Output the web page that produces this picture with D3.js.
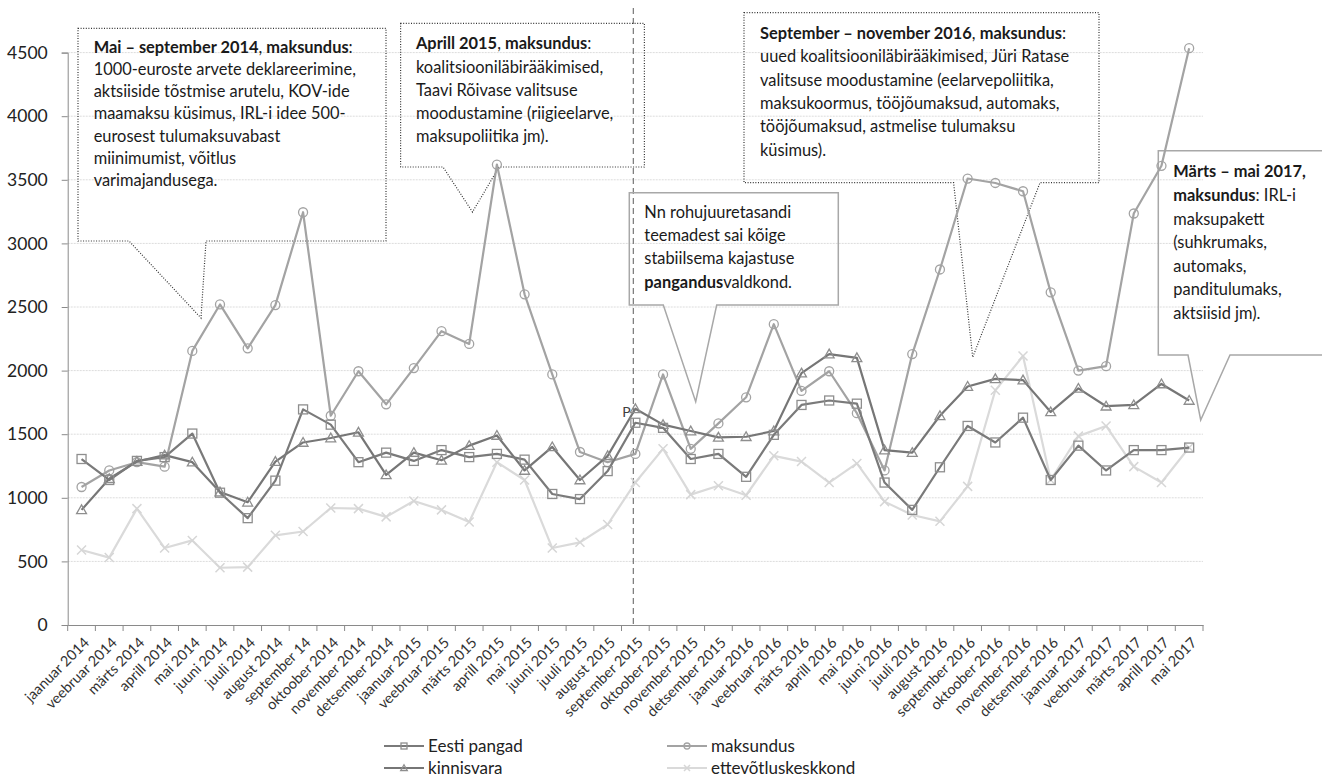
<!DOCTYPE html>
<html>
<head>
<meta charset="utf-8">
<script src="https://cdn.jsdelivr.net/npm/d3@7"></script>
<style>
  html, body { margin: 0; padding: 0; background: #fff; }
  svg { display: block; font-family: Lato, "Open Sans", sans-serif; }
</style>
</head>
<body>
<svg id="chart" width="1322" height="777"></svg>
<script>
// ---------- DATA ----------
const months = [
  "jaanuar 2014","veebruar 2014","märts 2014","aprill 2014","mai 2014","juuni 2014","juuli 2014","august 2014","september 14","oktoober 2014","november 2014","detsember 2014",
  "jaanuar 2015","veebruar 2015","märts 2015","aprill 2015","mai 2015","juuni 2015","juuli 2015","august 2015","september 2015","oktoober 2015","november 2015","detsember 2015",
  "jaanuar 2016","veebruar 2016","märts 2016","aprill 2016","mai 2016","juuni 2016","juuli 2016","august 2016","september 2016","oktoober 2016","november 2016","detsember 2016",
  "jaanuar 2017","veebruar 2017","märts 2017","aprill 2017","mai 2017"
];
const eestiPangad = [1305,1140,1290,1320,1505,1040,840,1135,1695,1575,1280,1355,
  1290,1375,1320,1345,1300,1030,990,1210,1590,1550,1305,1345,
  1165,1495,1730,1765,1740,1120,905,1240,1565,1435,1630,1140,
  1410,1215,1375,1375,1395];
const maksundus = [1085,1215,1280,1245,2155,2520,2175,2515,3245,1645,1995,1735,
  2020,2310,2210,3620,2600,1970,1360,1280,1345,1970,1385,1585,
  1790,2365,1840,1995,1665,1215,2130,2795,3510,3475,3410,2615,
  2000,2035,3235,3610,4535];
const kinnisvara = [905,1150,1285,1335,1280,1045,965,1285,1435,1470,1515,1180,
  1355,1295,1410,1490,1215,1400,1140,1330,1700,1575,1525,1475,
  1480,1525,1980,2130,2100,1375,1355,1645,1875,1935,1925,1675,
  1860,1720,1730,1895,1765];
const ettevotluskeskkond = [590,530,915,605,665,450,455,705,735,920,915,850,
  975,905,810,1280,1140,605,650,790,1120,1385,1025,1095,
  1020,1330,1285,1120,1270,970,865,815,1090,1845,2115,1140,
  1485,1565,1245,1120,1395];
const yTicks = [0,500,1000,1500,2000,2500,3000,3500,4000,4500];
const seriesNames = ["Eesti pangad","maksundus","kinnisvara","ettevõtluskeskkond"];

// ---------- SETUP ----------
const svg = d3.select("#chart");
const M = {left: 67.7, right: 1203, top: 52.6, bottom: 625};
const x = d3.scaleBand().domain(months).range([M.left, M.right]).padding(0);
const y = d3.scaleLinear().domain([0, 4500]).range([M.bottom, M.top]);
const cx = d => x(d) + x.bandwidth() / 2;

const series = [
  {name: seriesNames[0], values: eestiPangad, line: "#7a7a7a", mark: "#8e8e8e", shape: "square"},
  {name: seriesNames[1], values: maksundus, line: "#a3a3a3", mark: "#a3a3a3", shape: "circle"},
  {name: seriesNames[2], values: kinnisvara, line: "#767676", mark: "#8e8e8e", shape: "triangle"},
  {name: seriesNames[3], values: ettevotluskeskkond, line: "#dadada", mark: "#d6d6d6", shape: "cross"}
];

// gridlines
svg.append("g").selectAll("line").data(yTicks.filter(t => t > 0)).join("line")
  .attr("x1", M.left).attr("x2", M.right)
  .attr("y1", d => y(d)).attr("y2", d => y(d))
  .attr("stroke", "#dcdcdc").attr("stroke-width", 1).attr("stroke-dasharray", "2,1");

// y axis
const yAxis = svg.append("g").attr("transform", `translate(${M.left},0)`)
  .call(d3.axisLeft(y).tickValues(yTicks).tickSize(6).tickPadding(14).tickFormat(d3.format("d")));
yAxis.select(".domain").attr("stroke", "#8a8a8a");
yAxis.selectAll(".tick line").attr("stroke", "#8a8a8a");
yAxis.selectAll(".tick text").attr("font-size", 17.5).attr("fill", "#222").attr("font-family", "Lato");

// x axis
const xAxis = svg.append("g").attr("transform", `translate(0,${M.bottom})`)
  .call(d3.axisBottom(x).tickSize(0).tickFormat(""));
xAxis.select(".domain").attr("stroke", "#8a8a8a");
const bounds = months.map(m => x(m)).concat([M.right]);
svg.append("g").selectAll("line").data(bounds).join("line")
  .attr("x1", d => d).attr("x2", d => d).attr("y1", M.bottom).attr("y2", M.bottom + 6)
  .attr("stroke", "#8a8a8a");
svg.append("g").selectAll("text").data(months).join("text")
  .attr("transform", d => `translate(${cx(d) + 5},${M.bottom + 15}) rotate(-45)`)
  .attr("text-anchor", "end").attr("dy", "0.35em")
  .attr("font-size", 14.5).attr("fill", "#333").text(d => d);

// dashed vertical marker
svg.append("line")
  .attr("x1", cx("september 2015") - 2).attr("x2", cx("september 2015") - 2)
  .attr("y1", 8).attr("y2", M.bottom)
  .attr("stroke", "#808080").attr("stroke-width", 1.3).attr("stroke-dasharray", "6,4");

// ---------- CALLOUTS ----------
function callout(pts, dotted) {
  svg.append("path")
    .attr("d", "M" + pts.map(p => p.join(",")).join("L") + "Z")
    .attr("fill", "none")
    .attr("stroke", dotted ? "#333" : "#a8a8a8")
    .attr("stroke-width", dotted ? 1.2 : 1.5)
    .attr("stroke-dasharray", dotted ? "1,1.6" : null);
}
// box 1
callout([[78,28.3],[386,28.3],[386,241],[206,241],[201,318],[129,241],[78,241]], true);
// box 2
callout([[400.6,23.3],[644.4,23.3],[644.4,167],[499,167],[472.5,212],[443,167],[400.6,167]], true);
// box 4
callout([[744,12.7],[1099,12.7],[1099,182.7],[1040,182.7],[972.7,357.3],[953.6,182.7],[744,182.7]], true);
// box 3
callout([[629.3,192.7],[838.3,192.7],[838.3,305],[716.7,305],[695.7,401.7],[663.3,305],[629.3,305]], false);
// box 5
callout([[1158.3,150.7],[1330,150.7],[1330,355],[1230,355],[1200.7,420],[1188,355],[1158.3,355]], false);

function textBlock(x0, ys, lines, size) {
  const g = svg.append("g").attr("font-size", size).attr("fill", "#1a1a1a");
  lines.forEach((parts, i) => {
    const t = g.append("text").attr("x", x0).attr("y", ys[i]).attr("dy", "0.35em");
    parts.forEach(p => {
      t.append("tspan").attr("font-weight", p[1] ? 700 : 400).text(p[0]);
    });
  });
}
const lineYs = (y0, step, n) => d3.range(n).map(i => y0 + i * step);
const CS = 16.4;

textBlock(93.7, lineYs(47, 22.2, 7), [
  [["Mai – september 2014", 1], [", ", 0], ["maksundus", 1], [":", 0]],
  [["1000-euroste arvete deklareerimine,", 0]],
  [["aktsiiside tõstmise arutelu, KOV-ide", 0]],
  [["maamaksu küsimus, IRL-i idee 500-", 0]],
  [["eurosest tulumaksuvabast", 0]],
  [["miinimumist, võitlus", 0]],
  [["varimajandusega.", 0]]
], CS);

textBlock(416, lineYs(43.5, 23.3, 5), [
  [["Aprill 2015", 1], [", ", 0], ["maksundus", 1], [":", 0]],
  [["koalitsiooniläbirääkimised,", 0]],
  [["Taavi Rõivase valitsuse", 0]],
  [["moodustamine (riigieelarve,", 0]],
  [["maksupoliitika jm).", 0]]
], CS);

textBlock(760, lineYs(33.3, 23.3, 6), [
  [["September – november 2016", 1], [", ", 0], ["maksundus", 1], [":", 0]],
  [["uued koalitsiooniläbirääkimised, Jüri Ratase", 0]],
  [["valitsuse moodustamine (eelarvepoliitika,", 0]],
  [["maksukoormus, tööjõumaksud, automaks,", 0]],
  [["tööjõumaksud, astmelise tulumaksu", 0]],
  [["küsimus).", 0]]
], CS);

textBlock(644.3, lineYs(212, 23.3, 4), [
  [["Nn rohujuuretasandi", 0]],
  [["teemadest sai kõige", 0]],
  [["stabiilsema kajastuse", 0]],
  [["pangandus", 1], ["valdkond.", 0]]
], CS);

textBlock(1173.3, lineYs(171.7, 23.6, 7), [
  [["Märts – mai 2017,", 1]],
  [["maksundus", 1], [": IRL-i", 0]],
  [["maksupakett", 0]],
  [["(suhkrumaks,", 0]],
  [["automaks,", 0]],
  [["panditulumaks,", 0]],
  [["aktsiisid jm).", 0]]
], CS);

// ---------- SERIES ----------
function drawMarker(g, shape, color, size) {
  const s = size;
  if (shape === "square") {
    g.append("rect").attr("x", -s/2).attr("y", -s/2).attr("width", s).attr("height", s)
      .attr("fill", "none").attr("stroke", color).attr("stroke-width", 1.3);
  } else if (shape === "circle") {
    g.append("circle").attr("r", s/2).attr("fill", "none").attr("stroke", color).attr("stroke-width", 1.3);
  } else if (shape === "triangle") {
    g.append("path").attr("d", `M0,${-s*0.55}L${s*0.55},${s*0.42}L${-s*0.55},${s*0.42}Z`)
      .attr("fill", "none").attr("stroke", color).attr("stroke-width", 1.3);
  } else {
    g.append("path").attr("d", `M${-s/2},${-s/2}L${s/2},${s/2}M${s/2},${-s/2}L${-s/2},${s/2}`)
      .attr("fill", "none").attr("stroke", color).attr("stroke-width", 1.5);
  }
}
const lineGen = d3.line().x((d, i) => cx(months[i])).y(d => y(d));
const drawOrder = [3, 1, 2, 0];
drawOrder.forEach(k => {
  const s = series[k];
  svg.append("path").datum(s.values).attr("d", lineGen)
    .attr("fill", "none").attr("stroke", s.line).attr("stroke-width", 2.2)
    .attr("stroke-linejoin", "round");
  const mg = svg.append("g");
  s.values.forEach((v, i) => {
    const g = mg.append("g").attr("transform", `translate(${cx(months[i])},${y(v)})`);
    drawMarker(g, s.shape, s.mark, 9);
  });
});

// stray data label
svg.append("text").attr("x", cx("september 2015") - 13).attr("y", y(1700) + 8)
  .attr("font-size", 14).attr("fill", "#404040").text("P");

// ---------- LEGEND ----------
const legendPos = [
  {x: 384, y: 746}, {x: 667, y: 746}, {x: 384, y: 768}, {x: 667, y: 768}
];
series.forEach((s, i) => {
  const p = legendPos[i];
  const g = svg.append("g").attr("transform", `translate(${p.x},${p.y})`);
  g.append("line").attr("x1", 0).attr("x2", 40).attr("stroke", s.line).attr("stroke-width", 2.2);
  const mg = g.append("g").attr("transform", "translate(20,0)");
  drawMarker(mg, s.shape, s.mark, 6);
  g.append("text").attr("x", 44).attr("dy", "0.35em").attr("font-size", 17).attr("fill", "#222").text(s.name);
});
</script>
</body>
</html>
